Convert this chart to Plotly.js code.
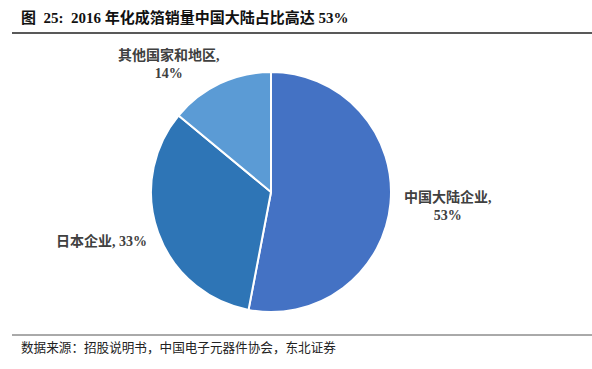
<!DOCTYPE html>
<html>
<head>
<meta charset="utf-8">
<script src="https://cdn.plot.ly/plotly-3.0.1.min.js"></script>
<style>html,body{margin:0;padding:0;background:#fff;}#chart{width:592px;height:369px;}</style>
</head>
<body>
<div id="chart"></div>
<script>
const categories = ["中国大陆企业", "日本企业", "其他国家和地区"];
const shares = [53, 33, 14];
const sliceColors = ["#4472C4", "#2E75B6", "#5B9BD5"];
const titleText = "图  25:  2016 年化成箔销量中国大陆占比高达 53%";
const sourceText = "数据来源：招股说明书，中国电子元器件协会，东北证券";

const W = 592, H = 369;
const cx = 271, cy = 192, r = 120;
const px = v => v / W, py = v => 1 - v / H;

const labelFont = {family: "Liberation Serif, Noto Sans CJK SC, serif", size: 14, color: "#404040"};
const labelPos = [
  {x: 448, y: 206, text: categories[0] + ",<br>" + shares[0] + "%"},
  {x: 101, y: 241, text: categories[1] + ", " + shares[1] + "%"},
  {x: 169, y: 64, text: categories[2] + ",<br>" + shares[2] + "%"}
];

const annotations = labelPos.map(p => ({
  xref: "paper", yref: "paper", x: px(p.x), y: py(p.y),
  xanchor: "center", yanchor: "middle", showarrow: false,
  text: "<b>" + p.text + "</b>", font: labelFont, align: "center"
}));
annotations.push({
  xref: "paper", yref: "paper", x: px(19), y: py(17), xanchor: "left", yanchor: "middle",
  showarrow: false, text: "<b>" + titleText + "</b>",
  font: {family: "Liberation Serif, Noto Sans CJK SC, serif", size: 15, color: "#111"}
});
annotations.push({
  xref: "paper", yref: "paper", x: px(19), y: py(347), xanchor: "left", yanchor: "middle",
  showarrow: false, text: sourceText,
  font: {family: "Liberation Serif, Noto Sans CJK SC, serif", size: 12.6, color: "#222"}
});

const data = [{
  type: "pie",
  labels: categories,
  values: shares,
  sort: false,
  direction: "clockwise",
  rotation: 0,
  textinfo: "none",
  hoverinfo: "label+percent",
  marker: {colors: sliceColors, line: {color: "#ffffff", width: 2}},
  domain: {x: [px(cx - r), px(cx + r)], y: [py(cy + r), py(cy - r)]}
}];

const layout = {
  width: W, height: H,
  margin: {l: 0, r: 0, t: 0, b: 0},
  paper_bgcolor: "#fff",
  showlegend: false,
  annotations: annotations,
  shapes: [
    {type: "line", xref: "paper", yref: "paper", x0: px(12), x1: 1, y0: py(33), y1: py(33), line: {color: "#222", width: 1.5}},
    {type: "line", xref: "paper", yref: "paper", x0: px(12), x1: 1, y0: py(335), y1: py(335), line: {color: "#555", width: 1}}
  ]
};

Plotly.newPlot("chart", data, layout, {staticPlot: true, displayModeBar: false});
</script>
</body>
</html>
